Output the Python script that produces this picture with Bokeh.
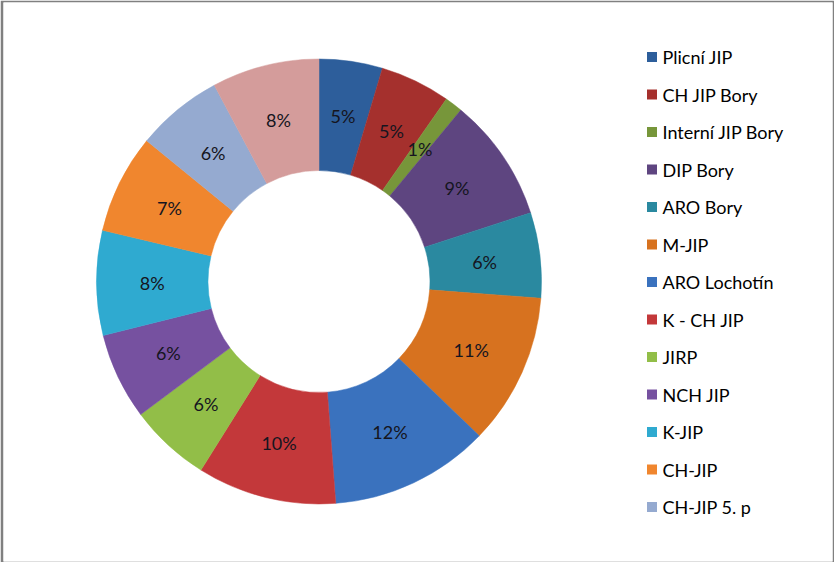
import math
from bokeh.plotting import figure
from bokeh.models import ColumnDataSource, Range1d
from bokeh.core.properties import value
from bokeh.embed import file_html
from bokeh.resources import INLINE

# ---- data ----
categories = ["Plicní JIP", "CH JIP Bory", "Interní JIP Bory", "DIP Bory", "ARO Bory",
              "M-JIP", "ARO Lochotín", "K - CH JIP", "JIRP", "NCH JIP", "K-JIP",
              "CH-JIP", "CH-JIP 5. p", "(další)"]
values = [4.6, 5.1, 1.3, 9.0, 6.2, 11.0, 11.6, 10.1, 5.9, 6.3, 7.6, 7.2, 6.3, 7.8]
colors = ["#2D5E9B", "#A5302D", "#77963A", "#5E4580", "#2A89A0", "#D7721F",
          "#3A72BE", "#C3383A", "#92BE48", "#7651A0", "#2FAAD0", "#F0862E",
          "#95AAD0", "#D49C9B"]
legend_shown = 13  # the last legend entry is cut off in the original

W, H = 834, 562
FONT = "Lato"

total = sum(values)
cum = [0.0]
for v in values:
    cum.append(cum[-1] + v / total)
starts = [math.pi / 2 - 2 * math.pi * cum[i + 1] for i in range(len(values))]
ends = [math.pi / 2 - 2 * math.pi * cum[i] for i in range(len(values))]
mids = [(cum[i] + cum[i + 1]) / 2 for i in range(len(values))]
labels = [f"{round(v / total * 100)}%" for v in values]

cx, cy = 318.5, H - 281
r_out, r_in = 222.5, 111
r_lab = (r_out + r_in) / 2

src = ColumnDataSource(dict(
    start=starts, end=ends, color=colors,
    lx=[cx + r_lab * math.sin(2 * math.pi * m) for m in mids],
    ly=[cy + r_lab * math.cos(2 * math.pi * m) for m in mids],
    label=labels,
))

p = figure(width=W, height=H, output_backend="svg", toolbar_location=None,
           x_range=Range1d(3, W - 2), y_range=Range1d(1, H - 2),
           min_border_left=3, min_border_right=2, min_border_top=2, min_border_bottom=1,
           border_fill_color="#808080", background_fill_color="white",
           outline_line_color=None)
p.axis.visible = False
p.grid.visible = False

p.annular_wedge(x=cx, y=cy, inner_radius=r_in, outer_radius=r_out,
                start_angle="start", end_angle="end", direction="anticlock",
                fill_color="color", line_color="color", line_width=0.5, source=src)

p.text(x="lx", y="ly", text="label", source=src, text_align="center",
       text_baseline="middle", text_font=value(FONT), text_font_size="18px",
       text_color="#151520")

# legend (manual, square markers)
lg = ColumnDataSource(dict(
    x=[651.5] * legend_shown,
    tx=[662] * legend_shown,
    y=[H - (56.5 + 37.5 * i) for i in range(legend_shown)],
    color=colors[:legend_shown],
    name=categories[:legend_shown],
))
p.rect(x="x", y="y", width=10, height=10, fill_color="color", line_color=None, source=lg)
p.text(x="tx", y="y", text="name", source=lg, text_align="left", text_baseline="middle",
       text_font=value(FONT), text_font_size="18px", text_color="#000000")

open("out.html", "w").write(file_html(p, INLINE))
